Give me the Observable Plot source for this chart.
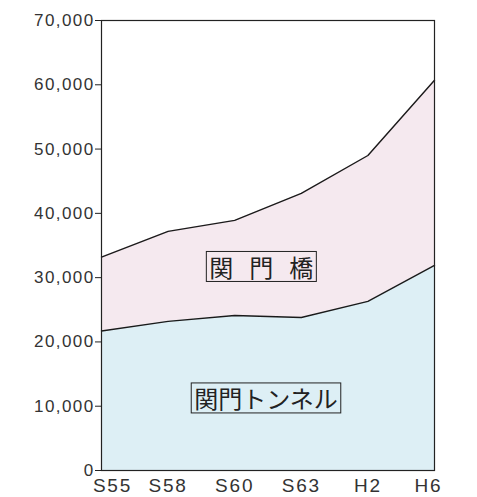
<!DOCTYPE html>
<html>
<head>
<meta charset="utf-8">
<script src="https://cdn.jsdelivr.net/npm/d3@7"></script>
<script src="https://cdn.jsdelivr.net/npm/@observablehq/plot@0.6"></script>
<style>
  html, body { margin: 0; padding: 0; background: #fff; }
  #chart svg { display: block; }
  #chart .yax text { letter-spacing: 1.4px; }
  #chart .xax text { letter-spacing: 1.8px; }
</style>
</head>
<body>
<div id="chart"></div>
<script>
const categories = ["S55", "S58", "S60", "S63", "H2", "H6"];
const seriesNames = ["関門トンネル", "関門橋"];
const tunnel = [21700, 23200, 24100, 23800, 26300, 31900];
const bridge = [11500, 14000, 14800, 19300, 22700, 28800];
const yTicks = [0, 10000, 20000, 30000, 40000, 50000, 60000, 70000];

const data = [];
categories.forEach((c, i) => {
  data.push({i, cat: c, series: seriesNames[0], value: tunnel[i]});
  data.push({i, cat: c, series: seriesNames[1], value: bridge[i]});
});

const fmt = d3.format(",");
const stackOpts = {x: "i", y: "value", z: "series", order: seriesNames};
const xAxisStyle = {
  tickSize: 0, tickPadding: 8, fontSize: 19, fill: "#333", label: null,
  tickFormat: i => categories[i], className: "xax"
};

const plot = Plot.plot({
  width: 477,
  height: 497,
  marginTop: 20,
  marginBottom: 27,
  marginLeft: 101,
  marginRight: 43,
  style: {fontFamily: "'Liberation Sans', Arial, sans-serif", color: "#222", background: "#fff"},
  x: {type: "linear", domain: [0, categories.length - 1], axis: null, label: null},
  y: {domain: [0, 70000], axis: null, label: null},
  color: {domain: seriesNames, range: ["#ddeff5", "#f5e9ef"]},
  marks: [
    Plot.areaY(data, Plot.stackY({...stackOpts, fill: "series"})),
    Plot.lineY(data, Plot.stackY2({...stackOpts, stroke: "#1a1a1a", strokeWidth: 1.4})),
    Plot.frame({stroke: "#222", strokeWidth: 1.2}),
    Plot.axisY(yTicks, {
      tickSize: 6, tickPadding: 1, tickFormat: fmt, fontSize: 17, label: null,
      stroke: "#222", fill: "#333", className: "yax"
    }),
    Plot.axisX(d3.range(1, categories.length - 1), {...xAxisStyle}),
    Plot.axisX([0], {...xAxisStyle, dx: 11}),
    Plot.axisX([categories.length - 1], {...xAxisStyle, dx: -6}),
    Plot.text([seriesNames[1]], {
      x: () => 2.4, y: () => 31300, text: d => d.split("").join("\u2002\u2006"),
      fontSize: 24, fill: "#222", fontFamily: "'Noto Sans CJK JP', sans-serif",
      className: "boxed"
    }),
    Plot.text([seriesNames[0]], {
      x: () => 2.47, y: () => 10850, text: d => d,
      fontSize: 24, fill: "#222", fontFamily: "'Noto Sans CJK JP', sans-serif",
      className: "boxed"
    })
  ]
});

document.getElementById("chart").appendChild(plot);

// draw a thin box around each annotation label
plot.querySelectorAll("g.boxed text").forEach(t => {
  const b = t.getBBox();
  const padX = 3, padY = -2.5;
  const rect = document.createElementNS("http://www.w3.org/2000/svg", "rect");
  rect.setAttribute("x", b.x - padX);
  rect.setAttribute("y", b.y - padY);
  rect.setAttribute("width", b.width + 2 * padX);
  rect.setAttribute("height", b.height + 2 * padY);
  rect.setAttribute("fill", "none");
  rect.setAttribute("stroke", "#222");
  rect.setAttribute("stroke-width", "1");
  const tr = t.getAttribute("transform");
  if (tr) rect.setAttribute("transform", tr);
  t.parentNode.insertBefore(rect, t);
});
</script>
</body>
</html>
